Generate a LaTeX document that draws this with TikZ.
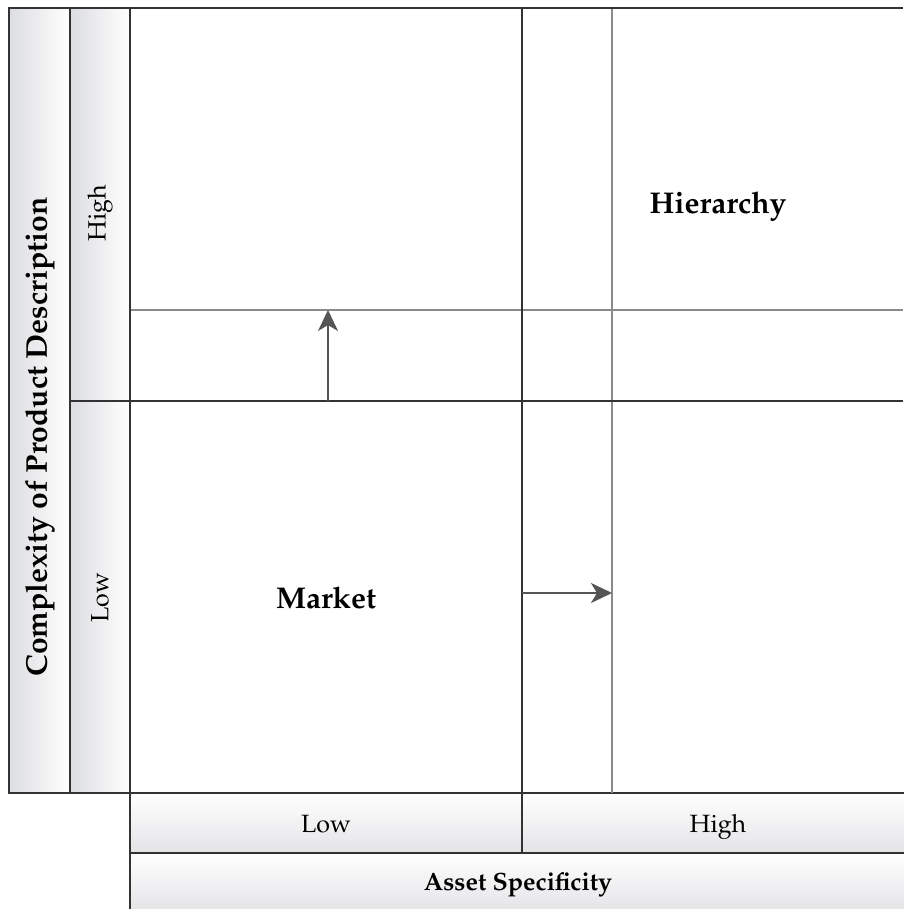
\documentclass[tikz,border=0pt]{standalone}
\usepackage[T1]{fontenc}
\usepackage{mathpazo}
\usetikzlibrary{arrows.meta}
\definecolor{edgedark}{HTML}{333333}
\definecolor{edgethin}{HTML}{8A8A8A}
\definecolor{arrowgray}{HTML}{555555}
\definecolor{shadegray}{HTML}{DCDDE0}
\tikzset{
  x=1pt,y=1pt,
  darkline/.style={draw=edgedark,line width=1.6pt},
  thinline/.style={draw=edgethin,line width=1.1pt},
  sidebox/.style={left color=shadegray,right color=white,draw=edgedark,line width=1.6pt},
  bottombox/.style={top color=white,bottom color=shadegray!80,draw=edgedark,line width=1.6pt},
  flowarrow/.style={draw=arrowgray,line width=2.6pt,-{Stealth[length=21pt,width=20pt,inset=6pt]}},
  smalllabel/.style={font=\fontsize{25}{28}\selectfont,text=black},
  biglabel/.style={font=\fontsize{30}{34}\selectfont\bfseries,text=black},
}
\begin{document}
\begin{tikzpicture}
\useasboundingbox (0,0) rectangle (903,-909);
% side boxes
\path[sidebox] (9,-8) rectangle (70,-793);
\path[sidebox] (70,-8) rectangle (130,-793);
% bottom boxes
\path[bottombox] (130,-793) rectangle (522,-853);
\path[bottombox] (522,-793) rectangle (905,-853);
\path[bottombox] (130,-853) rectangle (905,-912);
% thin grid lines
\draw[thinline] (130,-310) -- (903,-310);
\draw[thinline] (612,-8) -- (612,-793);
% dark grid lines
\draw[darkline] (9,-8) -- (903,-8);
\draw[darkline] (70,-401) -- (903,-401);
\draw[darkline] (522,-8) -- (522,-793);
\draw[darkline] (130,-8) -- (130,-793);
% coordinates for arrows
\coordinate (upS) at (328,-401);
\coordinate (upE) at (328,-310);
\coordinate (rtS) at (522,-593);
\coordinate (rtE) at (612,-593);
\draw[flowarrow] (upS) -- (upE);
\draw[flowarrow] (rtS) -- (rtE);
% labels
\node[biglabel,rotate=90] (cpd) at (40,-437) {Complexity of Product Description};
\node[smalllabel,rotate=90] (yhigh) at (100,-213) {High};
\node[smalllabel,rotate=90] (ylow) at (100,-598) {Low};
\node[biglabel] (market) at (326,-598) {Market};
\node[biglabel] (hier) at (718,-207) {Hierarchy};
\node[smalllabel,anchor=base] (xlow) at (326,-832) {Low};
\node[smalllabel,anchor=base] (xhigh) at (718,-832) {High};
\node[biglabel,font=\fontsize{25}{28}\selectfont\bfseries,anchor=base] (asset) at (518,-890) {Asset Specificity};
\end{tikzpicture}
\end{document}
